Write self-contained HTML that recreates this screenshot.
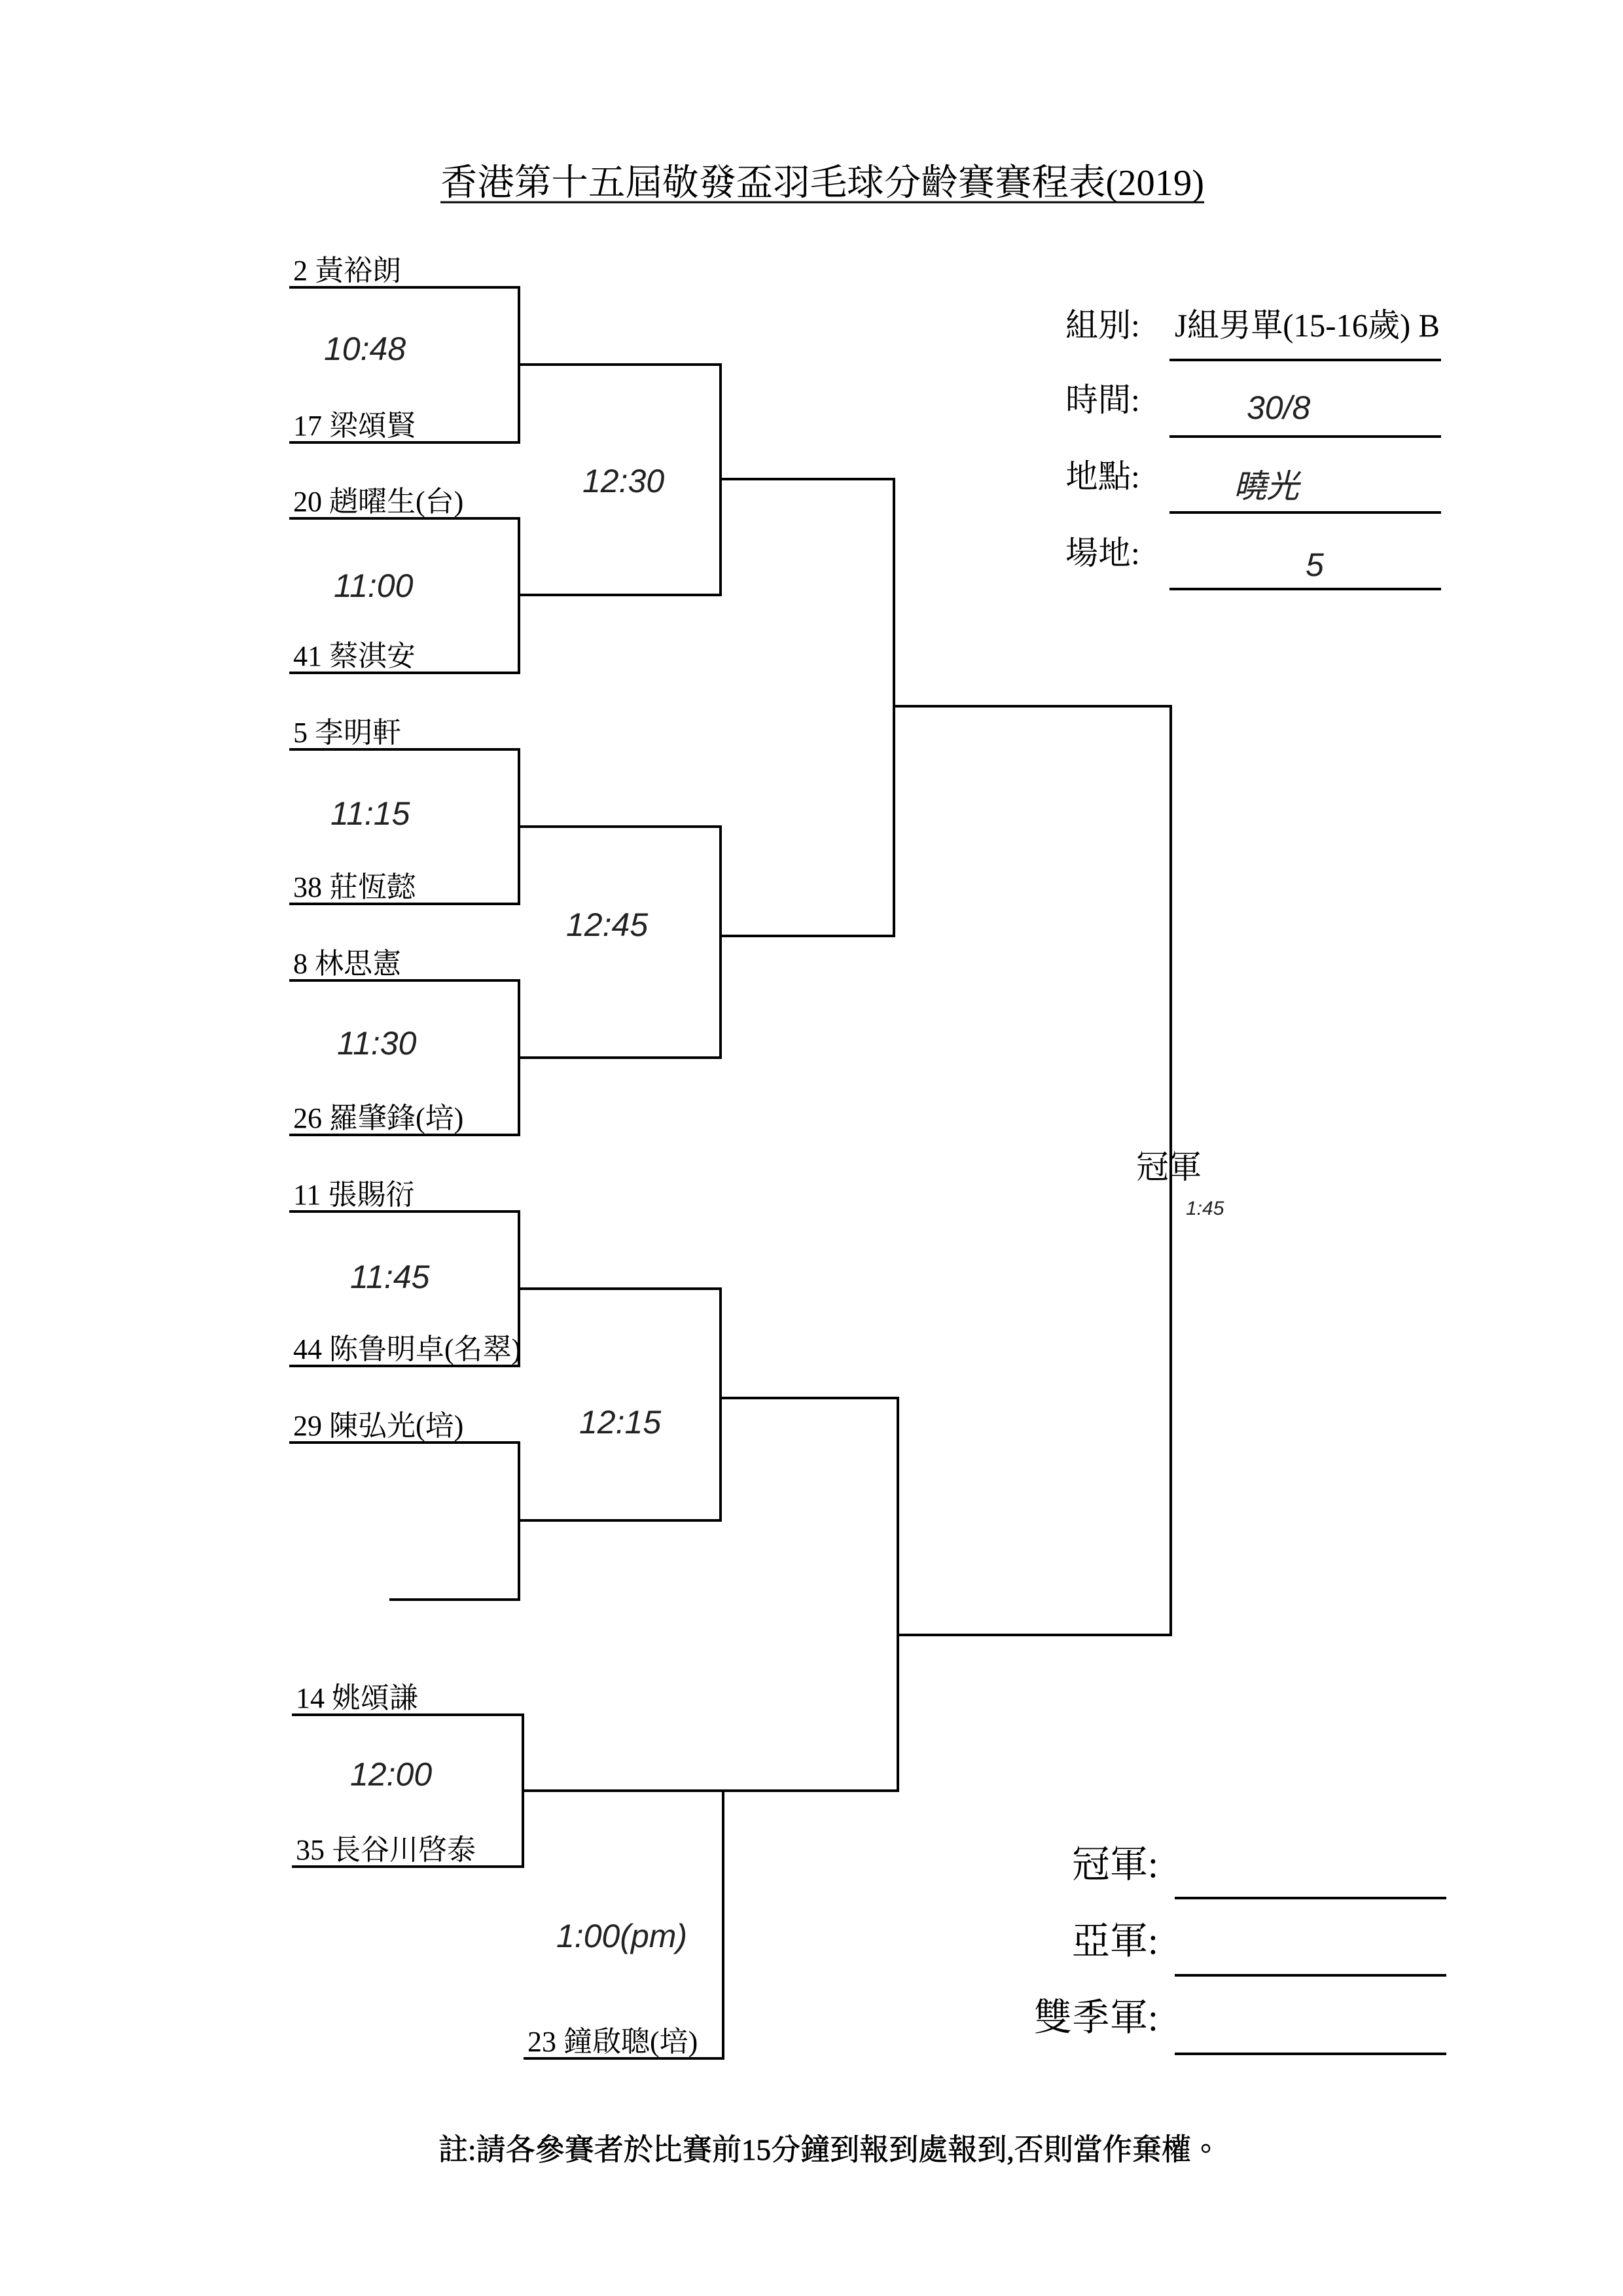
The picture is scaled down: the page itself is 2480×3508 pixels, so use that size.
<!DOCTYPE html>
<html><head><meta charset="utf-8">
<style>
html,body{margin:0;padding:0;background:#fff;}
svg{display:block;}
text{font-family:"Liberation Serif","Noto Serif CJK TC","Noto Serif CJK SC",serif;fill:#000;}
.n{font-size:44px;}
.h{font-family:"Liberation Sans","DejaVu Sans",sans-serif;font-style:italic;font-size:50px;fill:#222;}
.l{font-size:50px;}
</style></head>
<body>
<svg width="2480" height="3508" viewBox="0 0 2480 3508" xmlns="http://www.w3.org/2000/svg">
<g stroke="#000" stroke-width="4" fill="none">
<polyline points="442,439 793,439 793,676 442,676"/>
<polyline points="442,792 793,792 793,1028 442,1028"/>
<polyline points="442,1145 793,1145 793,1381 442,1381"/>
<polyline points="442,1498 793,1498 793,1734 442,1734"/>
<polyline points="442,1851 793,1851 793,2087 442,2087"/>
<polyline points="442,2204 793,2204 793,2444 595,2444"/>
<polyline points="446,2620 799,2620 799,2852 446,2852"/>
<polyline points="793,557 1101,557 1101,909 793,909"/>
<polyline points="793,1263 1101,1263 1101,1616 793,1616"/>
<polyline points="793,1969 1101,1969 1101,2323 793,2323"/>
<polyline points="799,2736 1105,2736 1105,3145 800,3145"/>
<polyline points="1101,732 1366,732 1366,1430 1101,1430"/>
<polyline points="1101,2136 1372,2136 1372,2736 1105,2736"/>
<polyline points="1366,1079 1789,1079 1789,2498 1372,2498"/>
<line x1="1787" y1="550" x2="2202" y2="550"/>
<line x1="1787" y1="667" x2="2202" y2="667"/>
<line x1="1787" y1="783" x2="2202" y2="783"/>
<line x1="1787" y1="900" x2="2202" y2="900"/>
<line x1="1795" y1="2900" x2="2210" y2="2900"/>
<line x1="1795" y1="3018" x2="2210" y2="3018"/>
<line x1="1795" y1="3138" x2="2210" y2="3138"/>
<line x1="673" y1="309" x2="1840" y2="309" stroke-width="3"/>
</g>
<text x="673" y="298" font-size="56" textLength="1167" lengthAdjust="spacingAndGlyphs">香港第十五屆敬發盃羽毛球分齡賽賽程表(2019)</text>

<text class="n" x="448" y="428">2 黃裕朗</text>
<text class="n" x="448" y="665">17 梁頌賢</text>
<text class="n" x="448" y="781">20 趙曜生(台)</text>
<text class="n" x="448" y="1017">41 蔡淇安</text>
<text class="n" x="448" y="1134">5 李明軒</text>
<text class="n" x="448" y="1370">38 莊恆懿</text>
<text class="n" x="448" y="1487">8 林思憲</text>
<text class="n" x="448" y="1723">26 羅肇鋒(培)</text>
<text class="n" x="448" y="1840">11 張賜衍</text>
<text class="n" x="448" y="2076">44 陈鲁明卓(名翠)</text>
<text class="n" x="448" y="2193">29 陳弘光(培)</text>
<text class="n" x="452" y="2609">14 姚頌謙</text>
<text class="n" x="452" y="2841">35 長谷川啓泰</text>
<text class="n" x="806" y="3134">23 鐘啟聰(培)</text>

<text class="h" x="495" y="550">10:48</text>
<text class="h" x="510" y="912">11:00</text>
<text class="h" x="505" y="1260">11:15</text>
<text class="h" x="515" y="1611">11:30</text>
<text class="h" x="535" y="1968">11:45</text>
<text class="h" x="535" y="2728">12:00</text>
<text class="h" x="890" y="752">12:30</text>
<text class="h" x="865" y="1430">12:45</text>
<text class="h" x="885" y="2190">12:15</text>
<text class="h" x="850" y="2975">1:00(pm)</text>

<text x="1736" y="1800" font-size="50">冠軍</text>
<text class="h" x="1812" y="1856" style="font-size:30px">1:45</text>

<text class="l" x="1628" y="514">組別:</text>
<text class="l" x="1628" y="628">時間:</text>
<text class="l" x="1628" y="745">地點:</text>
<text class="l" x="1628" y="862">場地:</text>
<text class="l" x="1795" y="514" textLength="405" lengthAdjust="spacingAndGlyphs">J組男單(15-16歲) B</text>
<text class="h" x="1905" y="640">30/8</text>
<text class="h" x="1885" y="760" style="font-family:'Noto Sans CJK TC',sans-serif">曉光</text>
<text class="h" x="1995" y="880">5</text>

<text x="1770" y="2868" font-size="58" text-anchor="end">冠軍:</text>
<text x="1770" y="2985" font-size="58" text-anchor="end">亞軍:</text>
<text x="1770" y="3102" font-size="58" text-anchor="end">雙季軍:</text>

<text x="670" y="3300" font-size="46" textLength="1195" lengthAdjust="spacingAndGlyphs" stroke="#000" stroke-width="0.8">註:請各參賽者於比賽前15分鐘到報到處報到,否則當作棄權。</text>
</svg>
</body></html>
